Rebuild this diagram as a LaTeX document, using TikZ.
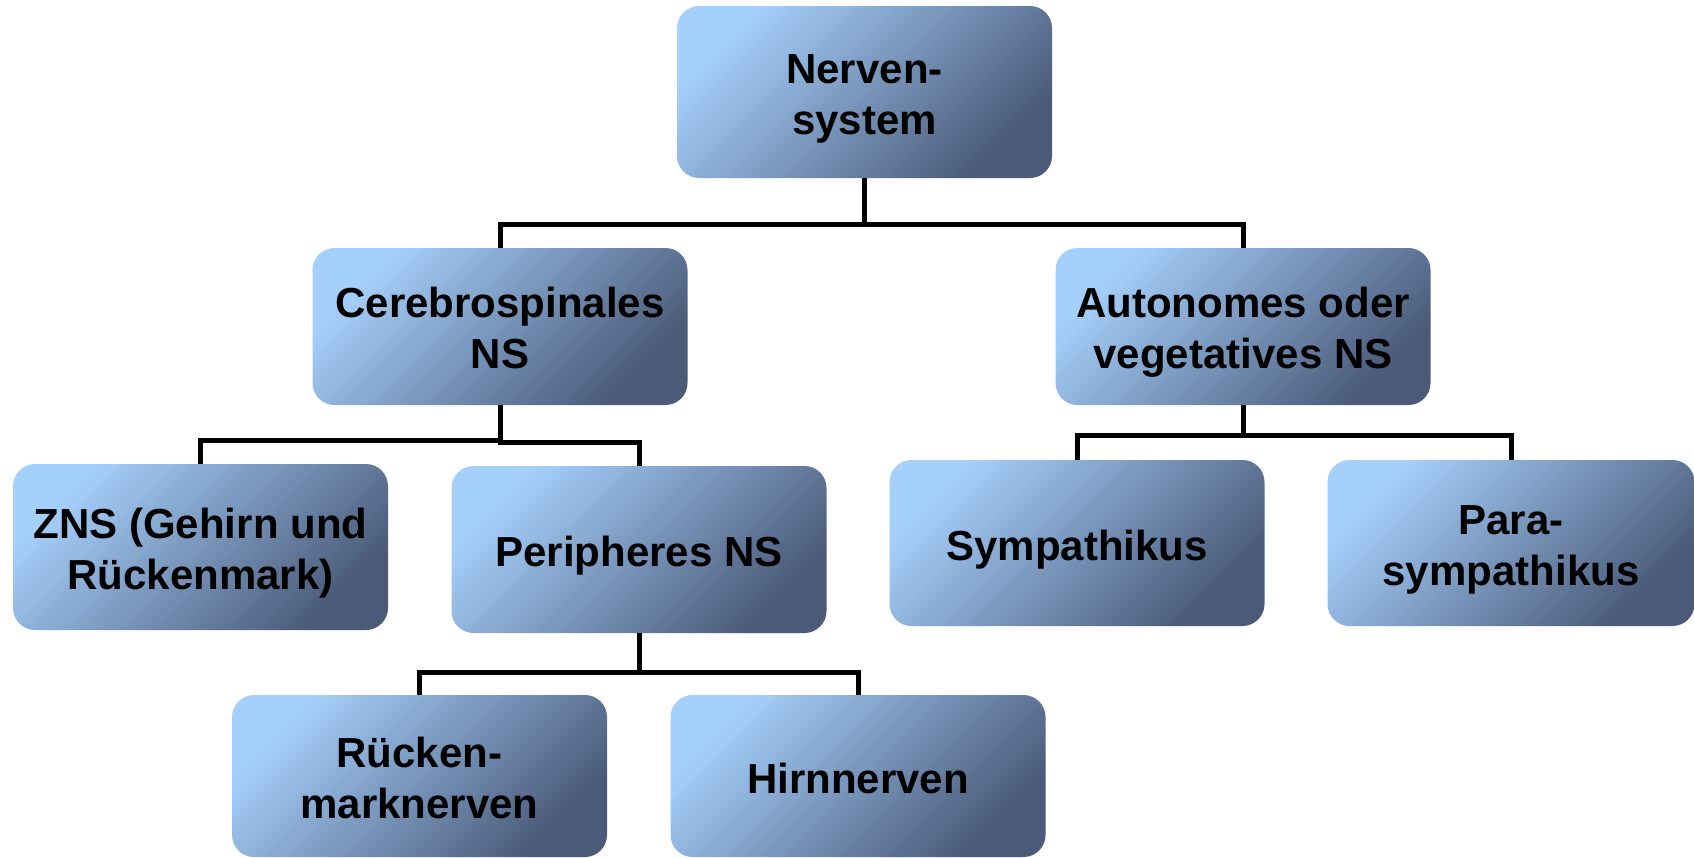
\documentclass[tikz,border=0pt]{standalone}
\usepackage{fontspec}
\setmainfont{Liberation Sans}
\usetikzlibrary{positioning}

\definecolor{boxlight}{RGB}{166,208,252}
\definecolor{boxdark}{RGB}{74,90,120}

\begin{document}
\begin{tikzpicture}[x=1pt,y=-1pt,
	nsbox/.style={rounded corners=22pt,top color=boxlight,bottom color=boxdark,
		shading angle=45,minimum width=375pt,inner sep=0pt,align=center,
		font=\fontsize{42}{51}\selectfont\bfseries},
	oneline/.style={nsbox,text height=39pt,text depth=5pt},
	twoline/.style={nsbox,text height=89pt,text depth=5pt},
	link/.style={line width=5pt,black}]
	\useasboundingbox (0,0) rectangle (1694,857);
	\node[twoline,minimum height=172pt](nerv) at (864.5,92){Nerven-\\system};
	\node[twoline,minimum height=157pt](cereb) at (500,326.5){Cerebrospinales\\NS};
	\node[twoline,minimum height=157pt](auton) at (1243,326.5){Autonomes oder\\vegetatives NS};
	\node[twoline,minimum height=166pt](zns) at (200.5,547){ZNS (Gehirn und\\R\"uckenmark)};
	\node[oneline,minimum height=167pt](periph) at (639,549.5){Peripheres NS};
	\node[oneline,minimum height=166pt](sympa) at (1077,543){Sympathikus};
	\node[twoline,minimum height=166pt,minimum width=367pt](para) at (1511,543){Para-\\sympathikus};
	\node[twoline,minimum height=162pt](rueck) at (419.5,776){R\"ucken-\\marknerven};
	\node[oneline,minimum height=162pt](hirn) at (858,776){Hirnnerven};
	
	\draw[link] (nerv.south) -- ++(0,46) -| (cereb.north);
	\draw[link] (nerv.south) -- ++(0,46) -| (auton.north);
	\draw[link] (cereb.south) -- ++(0,35) -| (zns.north);
	\draw[link] (cereb.south) -- ++(0,37) -| (periph.north);
	\draw[link] (auton.south) -- ++(0,30) -| (sympa.north);
	\draw[link] (auton.south) -- ++(0,30) -| (para.north);
	\draw[link] (periph.south) -- ++(0,39) -| (rueck.north);
	\draw[link] (periph.south) -- ++(0,39) -| (hirn.north);
\end{tikzpicture}
\end{document}
